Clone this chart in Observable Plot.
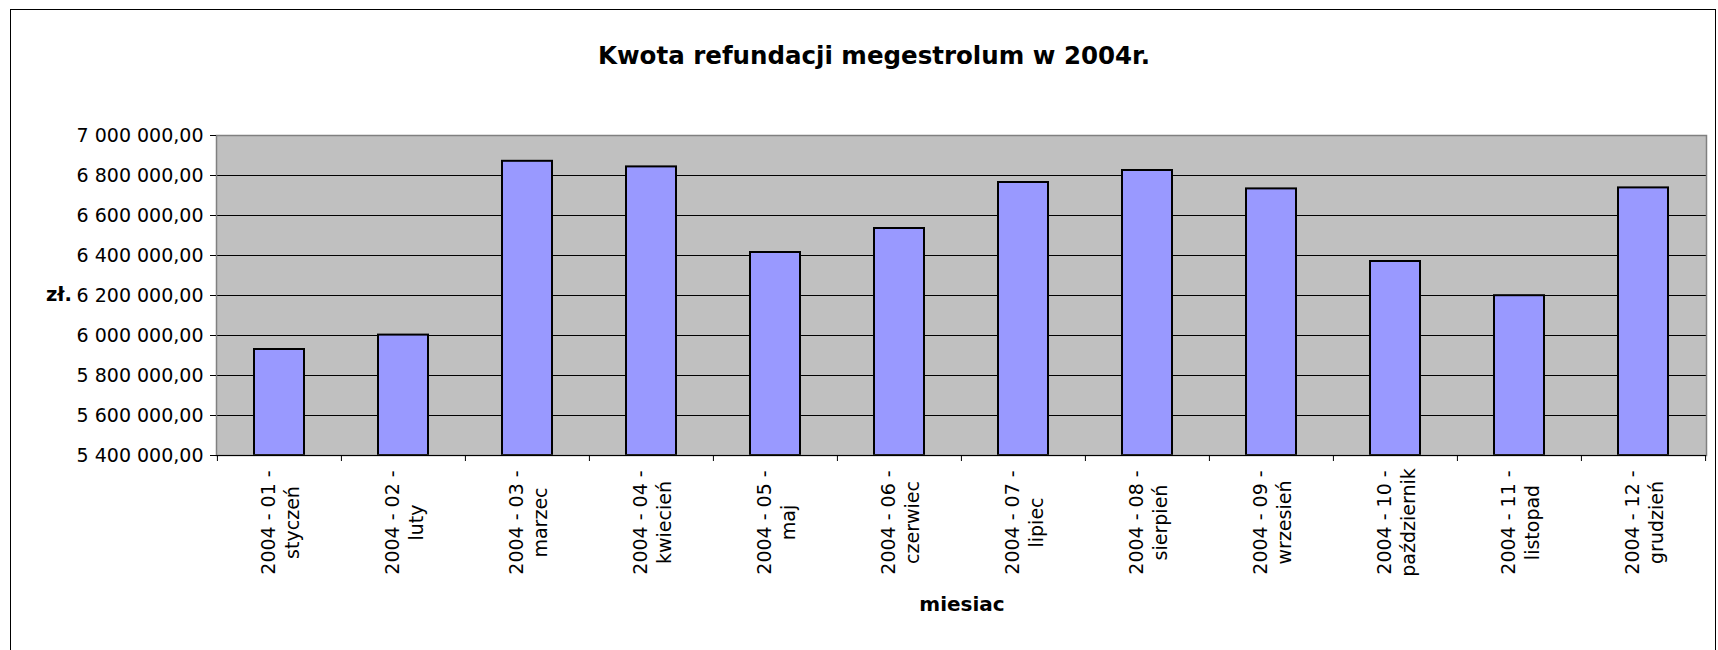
<!DOCTYPE html>
<html>
<head>
<meta charset="utf-8">
<script src="https://cdn.jsdelivr.net/npm/d3@7"></script>
<script src="https://cdn.jsdelivr.net/npm/@observablehq/plot@0.6"></script>
<style>
  html, body { margin: 0; padding: 0; background: #fff; }
  body { width: 1718px; height: 650px; overflow: hidden; position: relative; font-family: "DejaVu Sans", sans-serif; color: #000; }
  #chart { position: absolute; left: 0; top: 0; }
  #frame { position: absolute; left: 10px; top: 9px; width: 1706px; height: 700px; border: 1px solid #000; box-sizing: border-box; pointer-events: none; }
  .lbl { position: absolute; white-space: nowrap; font-weight: bold; line-height: 1; }
  #title { left: 874px; top: 43.5px; transform: translateX(-50%); font-size: 24.5px; }
  #ylab { left: 46px; top: 285px; font-size: 19.5px; }
  #xlab { left: 962px; top: 594px; transform: translateX(-50%); font-size: 20px; }
</style>
</head>
<body>
<div id="chart"></div>
<div id="frame"></div>
<div id="title" class="lbl">Kwota refundacji megestrolum w 2004r.</div>
<div id="ylab" class="lbl">zł.</div>
<div id="xlab" class="lbl">miesiac</div>
<script>
// ---- data ----
const months = [
  "2004 - 01 -\nstyczeń",
  "2004 - 02 -\nluty",
  "2004 - 03 -\nmarzec",
  "2004 - 04 -\nkwiecień",
  "2004 - 05 -\nmaj",
  "2004 - 06 -\nczerwiec",
  "2004 - 07 -\nlipiec",
  "2004 - 08 -\nsierpień",
  "2004 - 09 -\nwrzesień",
  "2004 - 10 -\npaździernik",
  "2004 - 11 -\nlistopad",
  "2004 - 12 -\ngrudzień"
];
const values = [5930000, 6002000, 6871000, 6843000, 6415000, 6535000, 6765000, 6825000, 6733000, 6370000, 6199000, 6738000];
const yTicks = [5400000, 5600000, 5800000, 6000000, 6200000, 6400000, 6600000, 6800000, 7000000];
const yMin = 5400000;
const yMax = 7000000;

const data = months.map((m, i) => ({month: m, value: values[i]}));

const plLocale = d3.formatLocale({decimal: ",", thousands: " ", grouping: [3], currency: ["", " zł"]});
const fmt = plLocale.format(",.2f");

const W = 1718, H = 650, mL = 216, mR = 12, mT = 135, mB = 195;
const step = (W - mL - mR) / months.length;

const chart = Plot.plot({
  width: W, height: H,
  marginTop: mT, marginLeft: mL, marginRight: mR, marginBottom: mB,
  style: {fontFamily: "'DejaVu Sans', sans-serif", fontSize: "19px", color: "#000", background: "transparent"},
  x: {domain: months, paddingInner: 0.6, paddingOuter: 0.3, label: null},
  y: {domain: [yMin, yMax], label: null},
  marks: [
    Plot.frame({fill: "#C0C0C0", stroke: "none"}),
    Plot.gridY(yTicks.slice(1, -1), {stroke: "#000", strokeOpacity: 1, strokeWidth: 1}),
    Plot.barY(data, {x: "month", y1: yMin, y2: "value", fill: "#9999FF", stroke: "#000", strokeWidth: 2}),
    Plot.frame({stroke: "#808080", strokeWidth: 1.5}),
    Plot.ruleY([yMin], {stroke: "#000", strokeWidth: 1}),
    Plot.axisY({ticks: yTicks, tickSize: 6, tickPadding: 7, tickFormat: fmt, fontSize: 19, label: null, stroke: "#000"}),
    Plot.axisX({ticks: months, tickSize: 6, dx: -step / 2, tickFormat: () => "", label: null, stroke: "#000"}),
    Plot.axisX({ticks: [months[months.length - 1]], tickSize: 6, dx: step / 2, tickFormat: () => "", label: null, stroke: "#000"}),
    Plot.text(months, {x: d => d, frameAnchor: "bottom", dy: 67, rotate: -90, textAnchor: "middle", lineAnchor: "middle", lineHeight: 1.25, fontSize: 19, fill: "#000"})
  ]
});
document.getElementById("chart").appendChild(chart);
</script>
</body>
</html>
